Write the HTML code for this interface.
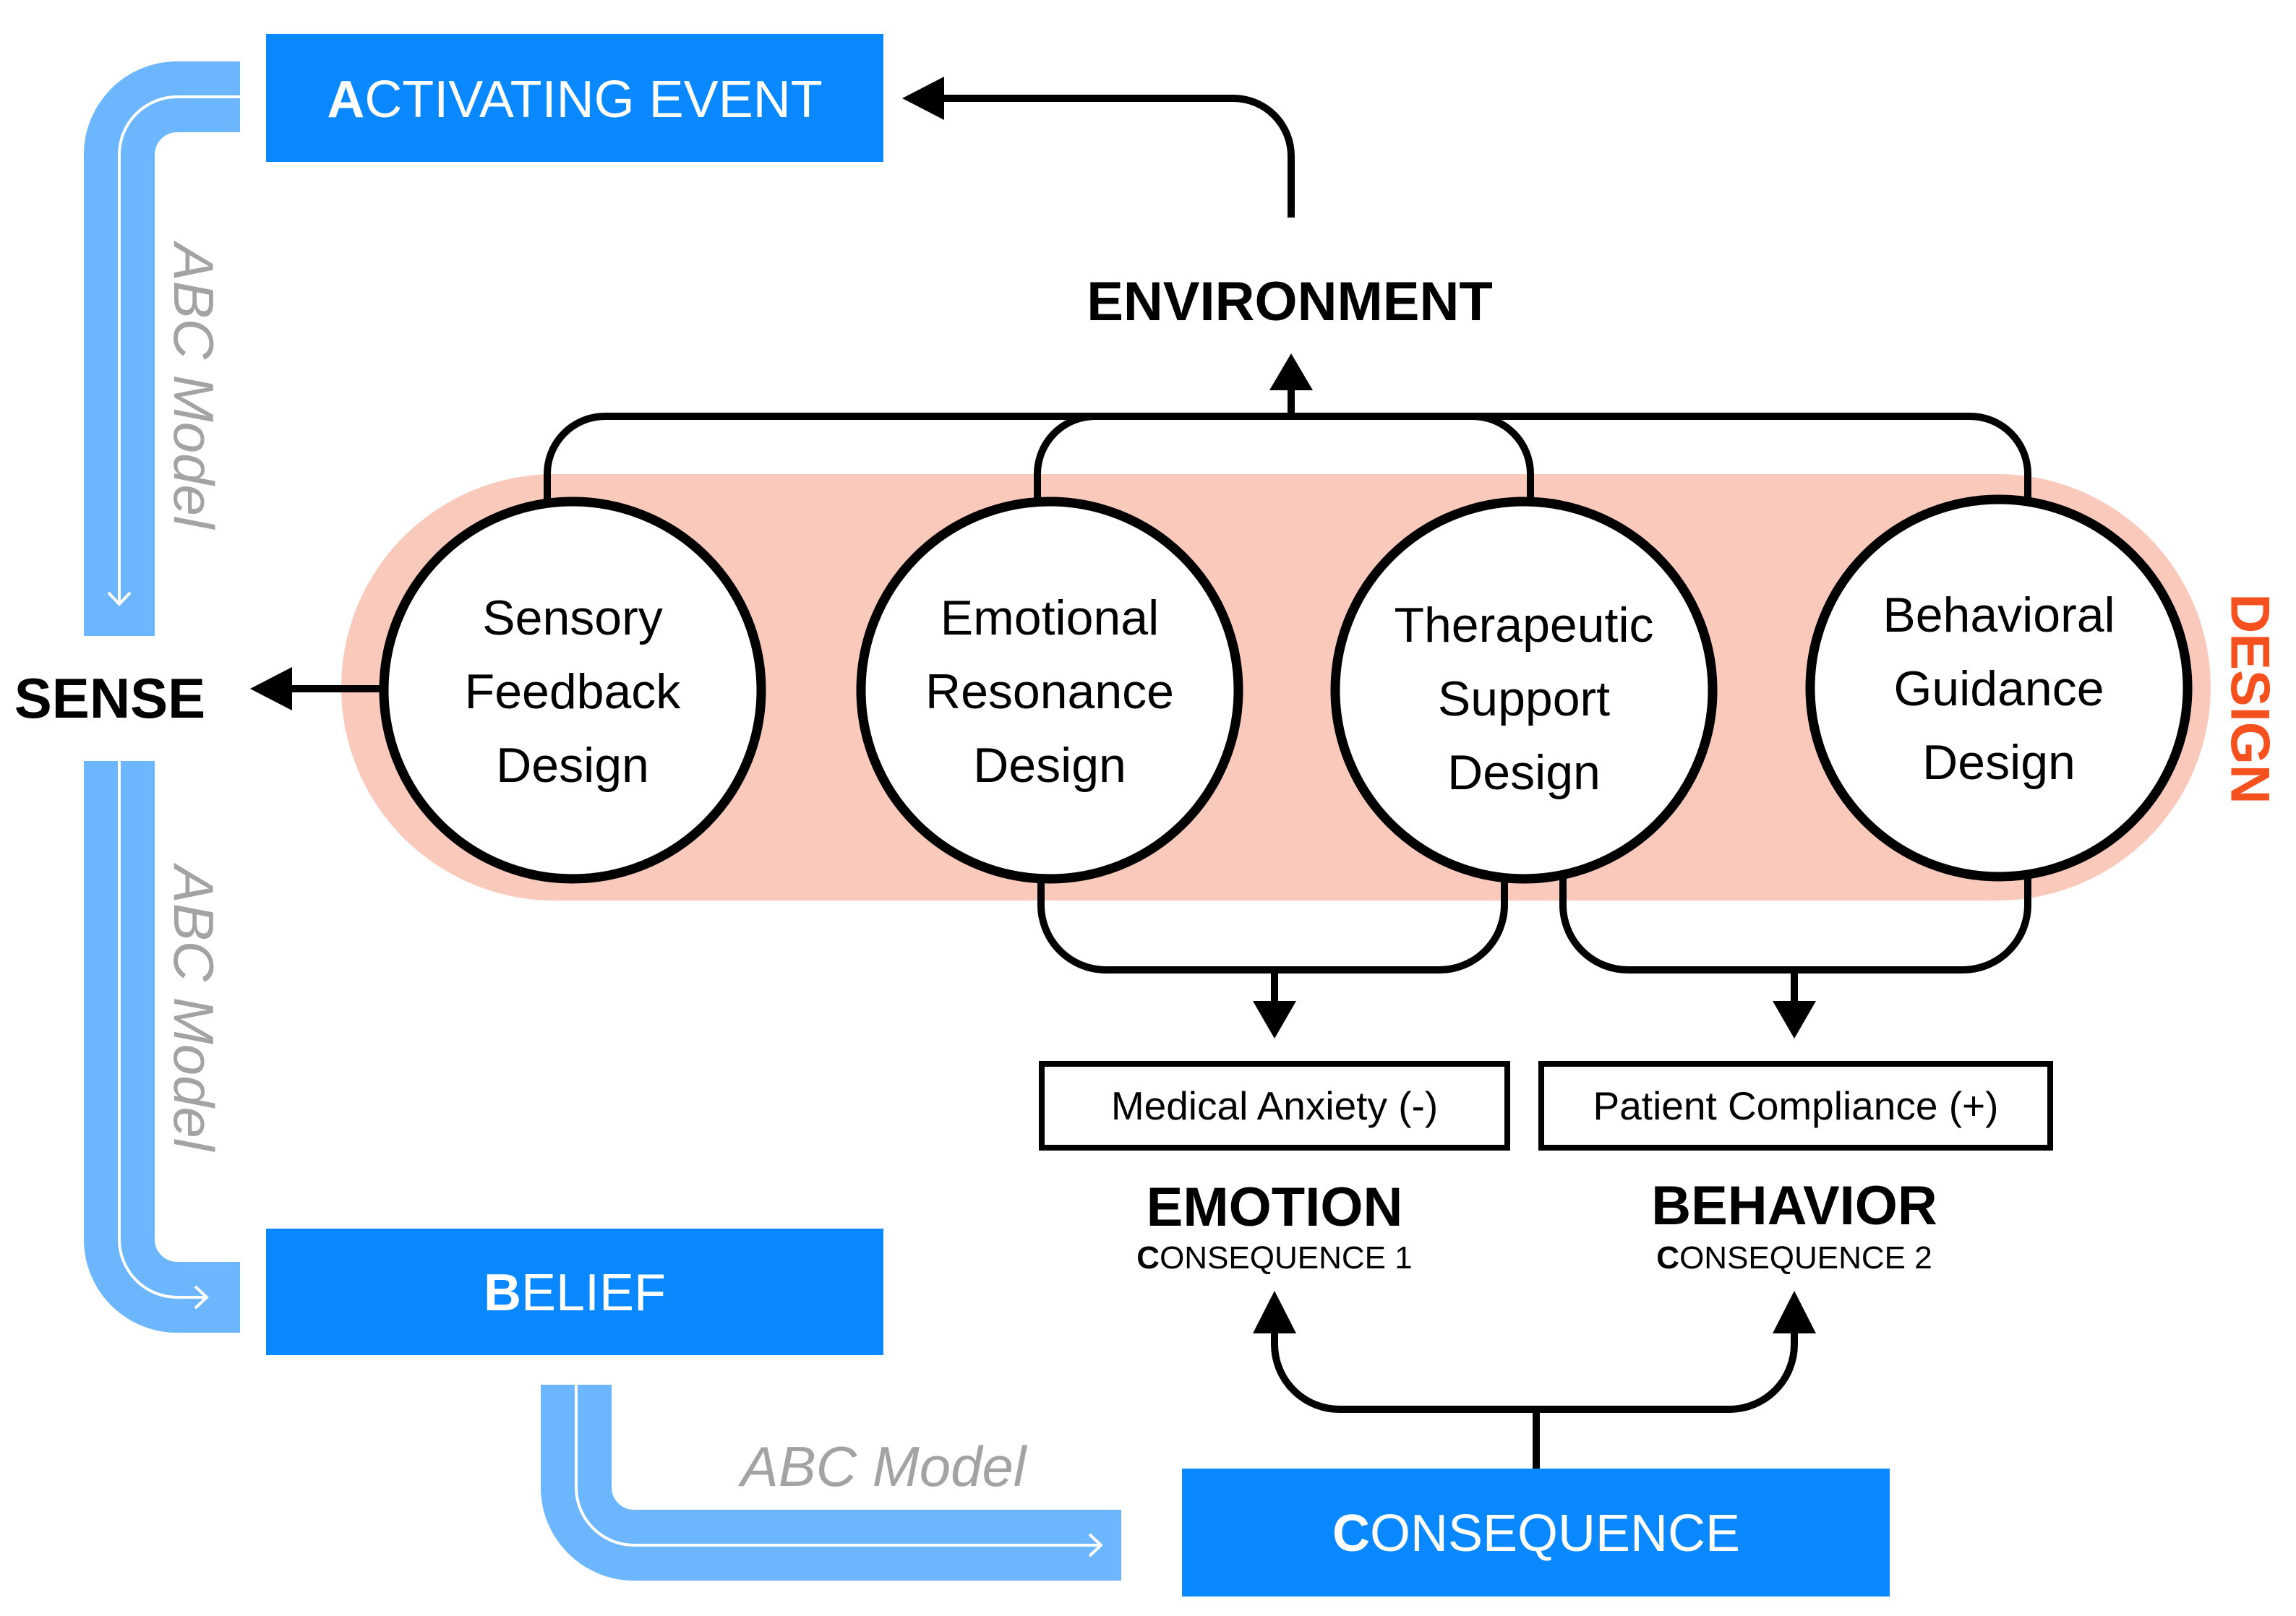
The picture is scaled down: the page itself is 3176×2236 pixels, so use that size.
<!DOCTYPE html>
<html><head><meta charset="utf-8"><style>
html,body{margin:0;padding:0;background:#fff;}
svg{display:block;}
text{font-family:"Liberation Sans",sans-serif;}
</style></head><body>
<svg width="3176" height="2236" viewBox="0 0 3176 2236" xmlns="http://www.w3.org/2000/svg">
<g fill="none" stroke="#6cb6fe" stroke-width="98">
<path d="M165 880 V214 A80 80 0 0 1 245 134 H332"/>
<path d="M165 1053 V1715 A80 80 0 0 0 245 1795 H332"/>
<path d="M797 1916 V2058 A80 80 0 0 0 877 2138 H1551"/>
</g>
<g fill="none" stroke="#fff" stroke-width="4">
<path d="M165 835 V214 A80 80 0 0 1 245 134 H332"/>
<path d="M150 820 L165 836 L180 820"/>
<path d="M165 1053 V1715 A80 80 0 0 0 245 1795 H285"/>
<path d="M270 1780 L286 1795 L270 1810"/>
<path d="M797 1916 V2058 A80 80 0 0 0 877 2138 H1522"/>
<path d="M1507 2123 L1523 2138 L1507 2153"/>
</g>
<g fill="#a3a3a3" font-style="italic" font-size="78">
<text transform="translate(268,534) rotate(90)" text-anchor="middle" dominant-baseline="central">ABC Model</text>
<text transform="translate(268,1395) rotate(90)" text-anchor="middle" dominant-baseline="central">ABC Model</text>
<text x="1222" y="2056" text-anchor="middle">ABC Model</text>
</g>
<g fill="#0a88ff">
<rect x="368" y="47" width="854" height="177"/>
<rect x="368" y="1700" width="854" height="175"/>
<rect x="1635" y="2032" width="979" height="177"/>
</g>
<g fill="#fff" font-size="72" text-anchor="middle">
<text x="795" y="162"><tspan font-weight="bold">A</tspan>CTIVATING EVENT</text>
<text x="795" y="1813"><tspan font-weight="bold">B</tspan>ELIEF</text>
<text x="2125" y="2146"><tspan font-weight="bold">C</tspan>ONSEQUENCE</text>
</g>
<rect x="472" y="656" width="2586" height="590" rx="295" fill="#f9c9bb"/>
<g fill="none" stroke="#000" stroke-width="10">
<path d="M757 700 V656 A80 80 0 0 1 837 576 H2725 A80 80 0 0 1 2805 656 V700"/>
<path d="M1435 700 V656 A80 80 0 0 1 1515 576"/>
<path d="M2117 700 V656 A80 80 0 0 0 2037 576"/>
<path d="M1786 576 V530"/>
<path d="M1786 301 V216 A80 80 0 0 0 1706 136 H1300"/>
<path d="M530 953 H390"/>
<path d="M1440 1210 V1252 A90 90 0 0 0 1530 1342 H1991 A90 90 0 0 0 2081 1252 V1210"/>
<path d="M2162 1210 V1252 A90 90 0 0 0 2252 1342 H2715 A90 90 0 0 0 2805 1252 V1210"/>
<path d="M1763 1342 V1390"/>
<path d="M2482 1342 V1390"/>
<path d="M2125 2032 V1950"/>
<path d="M1763 1843 V1860 A90 90 0 0 0 1853 1950 H2392 A90 90 0 0 0 2482 1860 V1843"/>
</g>
<g fill="#000">
<polygon points="1786,489 1756,540 1816,540"/>
<polygon points="1248,136 1306,106 1306,166"/>
<polygon points="346,953 404,923 404,983"/>
<polygon points="1763,1437 1733,1385 1793,1385"/>
<polygon points="2482,1437 2452,1385 2512,1385"/>
<polygon points="1763,1786 1733,1845 1793,1845"/>
<polygon points="2482,1786 2452,1845 2512,1845"/>
</g>
<g fill="#fff" stroke="#000" stroke-width="13">
<circle cx="792" cy="955" r="261"/>
<circle cx="1452" cy="955" r="261"/>
<circle cx="2108" cy="955" r="261"/>
<circle cx="2765" cy="952" r="261"/>
</g>
<g fill="#000" font-size="68" text-anchor="middle">
<text x="792" y="878">Sensory</text><text x="792" y="980">Feedback</text><text x="792" y="1082">Design</text>
<text x="1452" y="878">Emotional</text><text x="1452" y="980">Resonance</text><text x="1452" y="1082">Design</text>
<text x="2108" y="888">Therapeutic</text><text x="2108" y="990">Support</text><text x="2108" y="1092">Design</text>
<text x="2765" y="874">Behavioral</text><text x="2765" y="976">Guidance</text><text x="2765" y="1078">Design</text>
</g>
<g fill="#000" font-weight="bold" text-anchor="middle">
<text x="1784" y="443" font-size="76">ENVIRONMENT</text>
<text x="152" y="993" font-size="78">SENSE</text>
<text x="1763" y="1696" font-size="76">EMOTION</text>
<text x="2482" y="1694" font-size="76">BEHAVIOR</text>
</g>
<g fill="#000" font-size="44" text-anchor="middle">
<text x="1763" y="1755"><tspan font-weight="bold">C</tspan>ONSEQUENCE 1</text>
<text x="2482" y="1755"><tspan font-weight="bold">C</tspan>ONSEQUENCE 2</text>
</g>
<text transform="translate(3112,967) rotate(90)" text-anchor="middle" dominant-baseline="central" fill="#f4511e" font-weight="bold" font-size="76">DESIGN</text>
<g fill="#fff" stroke="#000" stroke-width="8">
<rect x="1441" y="1472" width="644" height="116"/>
<rect x="2132" y="1472" width="704" height="116"/>
</g>
<g fill="#000" font-size="55" text-anchor="middle">
<text x="1763" y="1549">Medical Anxiety (-)</text>
<text x="2484" y="1549">Patient Compliance (+)</text>
</g>
</svg>
</body></html>
